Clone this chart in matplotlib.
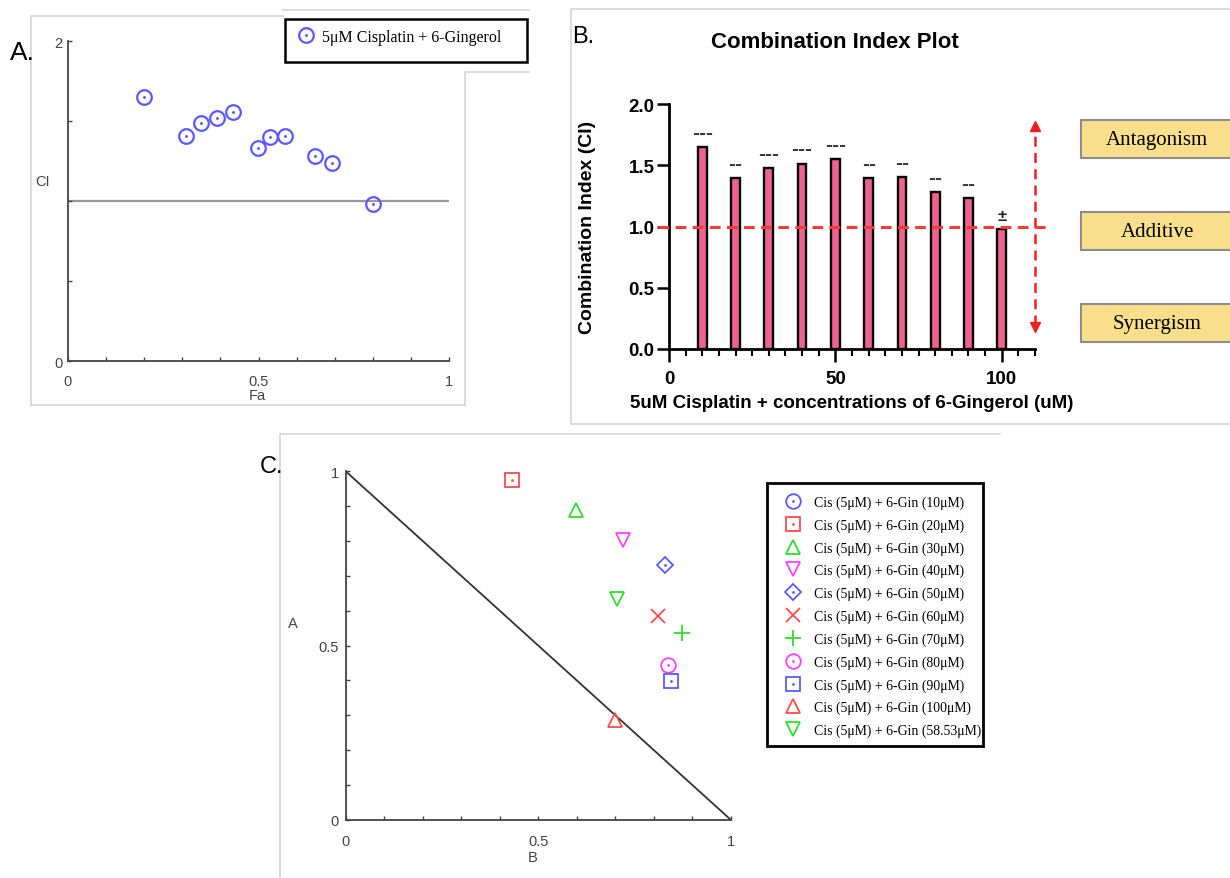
import numpy as np
import matplotlib
matplotlib.use("Agg")
import matplotlib.pyplot as plt
from matplotlib.patches import Rectangle
from matplotlib.ticker import MultipleLocator, FormatStrFormatter
from matplotlib.font_manager import FontProperties

W, H = 1230, 879

# ---- panel A: CI vs fraction affected
fa = [0.199, 0.311, 0.348, 0.392, 0.433, 0.499, 0.531, 0.569, 0.647, 0.692, 0.800]
ci_a = [1.654, 1.406, 1.487, 1.523, 1.558, 1.333, 1.400, 1.406, 1.285, 1.239, 0.983]
legend_a = "5\u03bcM Cisplatin + 6-Gingerol"

# ---- panel B: CI bars per 6-gingerol concentration
conc = [10, 20, 30, 40, 50, 60, 70, 80, 90, 100]
ci_b = [1.651, 1.393, 1.478, 1.513, 1.551, 1.393, 1.401, 1.279, 1.235, 0.982]
sig = ["---", "--", "---", "---", "---", "--", "--", "--", "--", "\u00b1"]
effects = ["Antagonism", "Additive", "Synergism"]

# ---- panel C: normalized isobologram
doses = ["10", "20", "30", "40", "50", "60", "70", "80", "90", "100", "58.53"]
iso_b = [np.nan, 0.431, 0.597, 0.721, 0.829, 0.812, 0.873, 0.838, 0.845, 0.700, 0.704]
iso_a = [np.nan, 0.976, 0.890, 0.804, 0.732, 0.586, 0.536, 0.445, 0.397, 0.286, 0.634]

BLUE, RED, GREEN, MAG = "#5a5aff", "#ff4d4d", "#2fdc2f", "#ff40ff"
mk = ["o", "s", "^", "v", "D", "x", "+", "o", "s", "^", "v"]
cols = [BLUE, RED, GREEN, MAG, BLUE, RED, GREEN, MAG, BLUE, RED, GREEN]
dotted = [True, True, False, False, True, False, False, True, True, False, False]
msizes = {"o": 10.5, "s": 10, "^": 10.5, "v": 10.5, "D": 8, "x": 10.5, "+": 11}

SANS = "Liberation Sans"
SERIF = "Liberation Serif"

fig = plt.figure(figsize=(W / 100, H / 100), dpi=100)


def px_axes(x0, y0, x1, y1):
    ax = fig.add_axes([x0 / W, 1 - y1 / H, (x1 - x0) / W, (y1 - y0) / H])
    ax.set_facecolor("none")
    return ax


# background layer in pixel coords for frames, panel letters, labels
bg = fig.add_axes([0, 0, 1, 1])
bg.set_xlim(0, W)
bg.set_ylim(H, 0)
bg.axis("off")

frame = dict(color="#d4d4d4", lw=1.2)
# panel A frame (screenshot edges)
bg.plot([31, 31, 283], [406, 17, 17], **frame)
bg.plot([31, 465], [406, 406], **frame)
bg.plot([465, 465], [73, 406], **frame)
bg.plot([283, 529], [11, 11], **frame)
bg.plot([466, 529], [73, 73], **frame)
# panel B frame
bg.plot([1230, 571, 571, 1230], [10, 10, 425, 425], **frame)
# panel C frame
bg.plot([1000, 280, 280], [435, 435, 879], **frame)

bg.text(10, 53, "A.", fontsize=19, family=SANS, va="center", ha="left")
bg.text(572, 37, "B.", fontsize=17, family=SANS, va="center", ha="left")
bg.text(260, 467, "C.", fontsize=17, family=SANS, va="center", ha="left")

# ================= panel A
axA = px_axes(67.8, 42.3, 449.4, 362.3)
axA.set_xlim(0, 1)
axA.set_ylim(0, 2)
for s in ["top", "right"]:
    axA.spines[s].set_visible(False)
for s in ["left", "bottom"]:
    axA.spines[s].set_color("#444")
    axA.spines[s].set_linewidth(1.3)
axA.set_xticks([0, 0.5, 1])
axA.set_xticklabels(["0", "0.5", "1"])
axA.xaxis.set_minor_locator(MultipleLocator(0.1))
axA.set_yticks([0, 2])
axA.set_yticklabels(["0", "2"])
axA.set_yticks([0.5, 1, 1.5], minor=True)
axA.tick_params(which="both", direction="in", length=3, width=1, color="#444",
                labelcolor="#444", labelsize=10.5)
axA.tick_params(axis="x", pad=9)
axA.tick_params(axis="y", pad=4)
for t in axA.get_xticklabels() + axA.get_yticklabels():
    t.set_family(SANS)
axA.axhline(1, color="#9a9a9a", lw=1.6, zorder=1)
axA.plot(fa, ci_a, "o", mfc="none", mec=BLUE, ms=10.5, mew=1.6, clip_on=False, zorder=3)
axA.plot(fa, ci_a, ".", color=BLUE, ms=2.2, clip_on=False, zorder=3)
bg.text(257, 396, "Fa", fontsize=10.5, family=SANS, color="#444", ha="center", va="center")
bg.text(43, 182, "CI", fontsize=10.5, family=SANS, color="#444", ha="center", va="center")

# legend A
bg.add_patch(Rectangle((285, 19.5), 242, 43, fill=False, ec="black", lw=1.8))
ha1 = axA.plot([], [], "o", mfc="none", mec=BLUE, ms=10.5, mew=1.6)[0]
ha2 = axA.plot([], [], ".", color=BLUE, ms=2.2)[0]
fig.legend([(ha1, ha2)], [legend_a], loc="center left",
           bbox_to_anchor=(292 / W, 1 - 38 / H), frameon=False, borderpad=0,
           handlelength=0.8, handletextpad=0.6,
           prop=FontProperties(family=SERIF, size=11.5))

# ================= panel B
axB = px_axes(669, 105, 1035, 350)
axB.set_xlim(0, 110)
axB.set_ylim(0, 2)
for s in ["top", "right"]:
    axB.spines[s].set_visible(False)
for s in ["left", "bottom"]:
    axB.spines[s].set_linewidth(2)
axB.bar(conc, ci_b, width=2.6, color="#F0628F", edgecolor="black", lw=1.7, zorder=2)
for x, h, s in zip(conc, ci_b, sig):
    if s == "\u00b1":
        axB.text(x, h + 0.075, s, ha="center", va="baseline", fontsize=12,
                 family=SANS, fontweight="bold", color="#222")
    else:
        axB.text(x, h + 0.075, s, ha="center", va="baseline", fontsize=15,
                 family=SANS, fontweight="bold", color="#333")
axB.plot([-3.3, 113.9], [1, 1], ls=(0, (3.5, 2.1)), color="#f03c3c", lw=2.2,
         clip_on=False, zorder=4)
axB.plot([110, 110], [0.2, 1.8], ls=(0, (4, 2.5)), color="#f02020", lw=1.8, clip_on=False)
axB.plot([110], [1.82], "^", color="#f02020", ms=7, clip_on=False)
axB.plot([110], [0.18], "v", color="#f02020", ms=7, clip_on=False)
axB.set_xticks([0, 50, 100])
axB.xaxis.set_minor_locator(MultipleLocator(5))
axB.set_yticks(np.arange(0, 2.01, 0.5))
axB.yaxis.set_major_formatter(FormatStrFormatter("%.1f"))
axB.tick_params(which="major", direction="out", length=9, width=1.8, labelsize=13.5)
axB.tick_params(which="minor", direction="out", length=5, width=1.5)
axB.tick_params(axis="x", pad=6)
axB.tick_params(axis="y", pad=1.5)
for t in axB.get_xticklabels() + axB.get_yticklabels():
    t.set_family(SANS)
    t.set_fontweight("bold")
bg.text(835, 42, "Combination Index Plot", fontsize=16, fontweight="bold", family=SANS,
        ha="center", va="center")
bg.text(588, 227, "Combination Index (CI)", fontsize=14, fontweight="bold", family=SANS,
        ha="center", va="center", rotation=90)
bg.text(852, 404, "5uM Cisplatin + concentrations of 6-Gingerol (uM)", fontsize=13.5,
        fontweight="bold", family=SANS, ha="center", va="center")

box_y = [121, 213, 305]
for y, lab in zip(box_y, effects):
    bg.add_patch(Rectangle((1081, y), 170, 38, fc="#F9DF8C", ec="#8c8c8c", lw=1.5))
    bg.text(1157, y + 19.5, lab, fontsize=15, family=SERIF, ha="center", va="center")

# ================= panel C
axC = px_axes(345.7, 472.3, 730.7, 820.7)
axC.set_xlim(0, 1)
axC.set_ylim(0, 1)
for s in ["top", "right"]:
    axC.spines[s].set_visible(False)
for s in ["left", "bottom"]:
    axC.spines[s].set_color("#444")
    axC.spines[s].set_linewidth(1.3)
axC.set_xticks([0, 0.5, 1])
axC.set_xticklabels(["0", "0.5", "1"])
axC.set_yticks([0, 0.5, 1])
axC.set_yticklabels(["0", "0.5", "1"])
axC.xaxis.set_minor_locator(MultipleLocator(0.1))
axC.yaxis.set_minor_locator(MultipleLocator(0.1))
axC.tick_params(which="both", direction="in", length=3, width=1, color="#444",
                labelcolor="#444", labelsize=10.5)
axC.tick_params(axis="x", pad=10)
axC.tick_params(axis="y", pad=5)
for t in axC.get_xticklabels() + axC.get_yticklabels():
    t.set_family(SANS)
axC.plot([0, 1], [1, 0], color="#333", lw=1.3, zorder=1)

handles, labels = [], []
for b, a, m, c, d, dose in zip(iso_b, iso_a, mk, cols, dotted, doses):
    ms = msizes[m]
    h1 = axC.plot([b], [a], m, mfc="none", mec=c, color=c, ms=ms, mew=1.3,
                  clip_on=False, zorder=3)[0]
    if d:
        h2 = axC.plot([b], [a], ".", color=c, ms=2, clip_on=False, zorder=3)[0]
        handles.append((h1, h2))
    else:
        handles.append(h1)
    labels.append("Cis (5\u03bcM) + 6-Gin (%s\u03bcM)" % dose)
bg.text(293, 624, "A", fontsize=10.5, family=SANS, color="#444", ha="center", va="center")
bg.text(533, 858, "B", fontsize=10.5, family=SANS, color="#444", ha="center", va="center")

bg.add_patch(Rectangle((767.3, 484), 215.4, 263, fill=False, ec="black", lw=2))
fig.legend(handles, labels, loc="upper left", bbox_to_anchor=(778 / W, 1 - 489.5 / H),
           frameon=False, borderpad=0, handlelength=1.2, handletextpad=0.9,
           labelspacing=0.68, prop=FontProperties(family=SERIF, size=9.9))

fig.savefig("out.png", dpi=100)
